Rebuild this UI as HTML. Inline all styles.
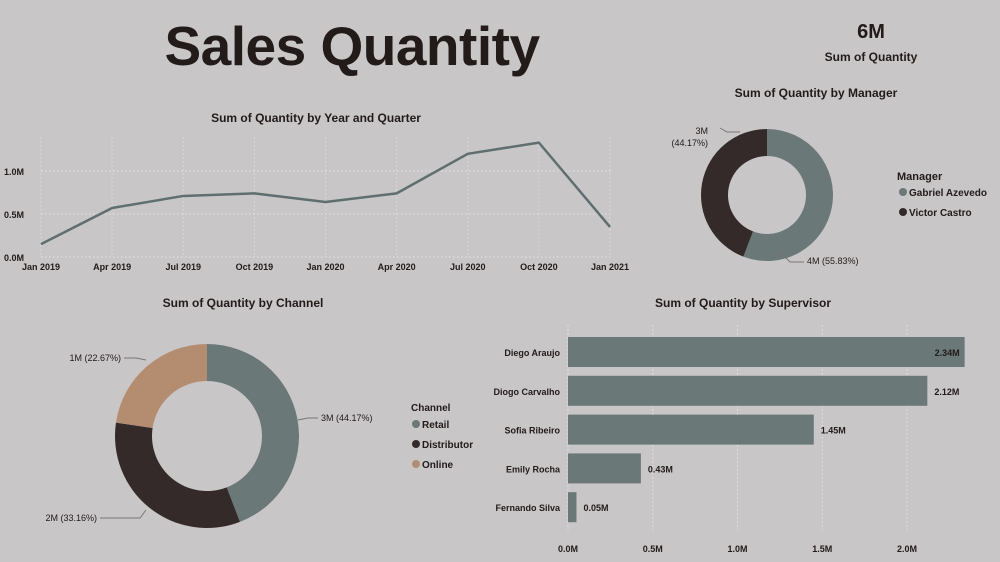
<!DOCTYPE html>
<html><head><meta charset="utf-8">
<style>
html,body{margin:0;padding:0;background:#c8c6c6;}
svg{display:block;font-family:"Liberation Sans",sans-serif;}
.t{font-weight:bold;fill:#231a1a;}
</style></head>
<body>
<svg id="c" width="1000" height="562" viewBox="0 0 1000 562">
<rect width="1000" height="562" fill="#c8c6c6"/>
<text x="352" y="65" text-anchor="middle" class="t" font-size="55" letter-spacing="-0.5">Sales Quantity</text>
<text x="871" y="38" text-anchor="middle" class="t" font-size="20">6M</text>
<text x="871" y="61" text-anchor="middle" class="t" font-size="12">Sum of Quantity</text>
<text x="316" y="122" text-anchor="middle" class="t" font-size="12">Sum of Quantity by Year and Quarter</text>
<text x="816" y="97" text-anchor="middle" class="t" font-size="12">Sum of Quantity by Manager</text>
<text x="243" y="307" text-anchor="middle" class="t" font-size="12">Sum of Quantity by Channel</text>
<text x="743" y="307" text-anchor="middle" class="t" font-size="12">Sum of Quantity by Supervisor</text>
<g id="line"></g>
<g id="mgr"></g>
<g id="chn"></g>
<g id="bar"></g>
</svg>
<script>
const NS="http://www.w3.org/2000/svg";
const quarters=["Jan 2019","Apr 2019","Jul 2019","Oct 2019","Jan 2020","Apr 2020","Jul 2020","Oct 2020","Jan 2021"];
const qtyByQuarter=[0.15,0.57,0.71,0.74,0.64,0.74,1.2,1.33,0.35];
const lineTicks=[0,0.5,1.0];
const lineTickLabels=["0.0M","0.5M","1.0M"];
const managers=["Gabriel Azevedo","Victor Castro"];
const managerPct=[55.83,44.17];
const managerLabels=["4M (55.83%)","3M (44.17%)"];
const channels=["Retail","Distributor","Online"];
const channelPct=[44.17,33.16,22.67];
const channelLabels=["3M (44.17%)","2M (33.16%)","1M (22.67%)"];
const supervisors=["Diego Araujo","Diogo Carvalho","Sofia Ribeiro","Emily Rocha","Fernando Silva"];
const supervisorQty=[2.34,2.12,1.45,0.43,0.05];
const supervisorLabels=["2.34M","2.12M","1.45M","0.43M","0.05M"];
const barTicks=[0,0.5,1.0,1.5,2.0];
const barTickLabels=["0.0M","0.5M","1.0M","1.5M","2.0M"];

function mk(tag,attrs,parent,txt){const e=document.createElementNS(NS,tag);for(const k in attrs)e.setAttribute(k,attrs[k]);if(txt!==undefined)e.textContent=txt;parent.appendChild(e);return e;}

// line chart
const L=document.getElementById('line');
const lx=i=>41+i*(569/(quarters.length-1));
const ly=v=>257-v*86;
lineTicks.forEach((t,i)=>{
  const g=mk('line',{x1:41,x2:612,y1:ly(t),y2:ly(t),stroke:'#e6e4e4','stroke-dasharray':'1.5 2.5'},L);
  
  
  const tx=mk('text',{x:4,y:ly(t)+4,'font-size':9,class:'t'},L,lineTickLabels[i]);
  
  
});
quarters.forEach((q,i)=>{
  const g=mk('line',{x1:lx(i),x2:lx(i),y1:137,y2:257,stroke:'#dedcdc','stroke-dasharray':'1.5 2.5'},L);
  
  
  const tx=mk('text',{x:lx(i),y:270,'font-size':9,'text-anchor':'middle',class:'t'},L,q);
  
  
});
const pl=mk('polyline',{points:qtyByQuarter.map((v,i)=>lx(i)+','+ly(v)).join(' '),fill:'none',stroke:'#5f6e6e','stroke-width':2.5,'stroke-linejoin':'round'},L);



// donut
function donut(G,cx,cy,ro,ri,pcts,colors,names,prefix){
  let a=0;
  pcts.forEach((p,i)=>{
    const a0=a/100*2*Math.PI, a1=(a+p)/100*2*Math.PI; a+=p;
    const pt=(r,t)=>[cx+r*Math.sin(t),cy-r*Math.cos(t)];
    const [x0,y0]=pt(ro,a0),[x1,y1]=pt(ro,a1),[x2,y2]=pt(ri,a1),[x3,y3]=pt(ri,a0);
    const lg=(a1-a0)>Math.PI?1:0;
    const s=mk('path',{d:`M${x0},${y0}A${ro},${ro} 0 ${lg} 1 ${x1},${y1}L${x2},${y2}A${ri},${ri} 0 ${lg} 0 ${x3},${y3}Z`,fill:colors[i]},G);
    
    
  });
}
const grey='#6b7878',dark='#352a2a',tan='#b48c70';
const M=document.getElementById('mgr');
donut(M,767,195,66,39,managerPct,[grey,dark],managers,'manager');
mk('polyline',{points:'780,252 790,262 804,262',fill:'none',stroke:'#777'},M);
mk('polyline',{points:'720,128 727,132 740,132',fill:'none',stroke:'#777'},M);
let e=mk('text',{x:807,y:264,'font-size':9,fill:'#231a1a'},M,managerLabels[0]);

e=mk('text',{x:708,y:134,'font-size':9,'text-anchor':'end',fill:'#231a1a'},M,'3M');

e=mk('text',{x:708,y:146,'font-size':9,'text-anchor':'end',fill:'#231a1a'},M,'(44.17%)');

e=mk('text',{x:897,y:180,'font-size':11,class:'t'},M,'Manager');

managers.forEach((m,i)=>{
  mk('circle',{cx:903,cy:192+i*20,r:4,fill:[grey,dark][i]},M);
  const t=mk('text',{x:909,y:196+i*20,'font-size':10,class:'t'},M,m);
  
  
});

const C=document.getElementById('chn');
donut(C,207,436,92,55,channelPct,[grey,dark,tan],channels,'channel');
mk('polyline',{points:'298,420 308,418 318,418',fill:'none',stroke:'#777'},C);
mk('polyline',{points:'146,510 140,518 100,518',fill:'none',stroke:'#777'},C);
mk('polyline',{points:'146,360 136,358 124,358',fill:'none',stroke:'#777'},C);
[[321,421,'start',0],[97,521,'end',1],[121,361,'end',2]].forEach(([x,y,an,i])=>{
  const t=mk('text',{x:x,y:y,'font-size':9,'text-anchor':an,fill:'#231a1a'},C,channelLabels[i]);
  
  
});
e=mk('text',{x:411,y:411,'font-size':10,class:'t'},C,'Channel');

channels.forEach((c,i)=>{
  mk('circle',{cx:416,cy:424+i*20,r:4,fill:[grey,dark,tan][i]},C);
  const t=mk('text',{x:422,y:428+i*20,'font-size':10,class:'t'},C,c);
  
  
});

// bar chart
const B=document.getElementById('bar');
const bx=v=>568+v*169.5;
const by=i=>352+i*38.8;
barTicks.forEach((t,i)=>{
  const g=mk('line',{x1:bx(t),x2:bx(t),y1:325,y2:530,stroke:'#e6e4e4','stroke-dasharray':'1.5 2.5'},B);
  
  
  const tx=mk('text',{x:bx(t),y:552,'font-size':9,'text-anchor':'middle',class:'t'},B,barTickLabels[i]);
  
  
});
supervisors.forEach((s,i)=>{
  const r=mk('rect',{x:bx(0),y:by(i)-15,width:bx(supervisorQty[i])-bx(0),height:30,fill:'#6b7878'},B);
  
  
  const n=mk('text',{x:560,y:by(i)+4,'font-size':9,'text-anchor':'end',class:'t'},B,s);
  
  
  const inside=bx(supervisorQty[i])>940;
  const v=mk('text',{x:inside?bx(supervisorQty[i])-5:bx(supervisorQty[i])+7,y:by(i)+4,'font-size':9,'text-anchor':inside?'end':'start',class:'t'},B,supervisorLabels[i]);
  
  
});
</script>
</body></html>
